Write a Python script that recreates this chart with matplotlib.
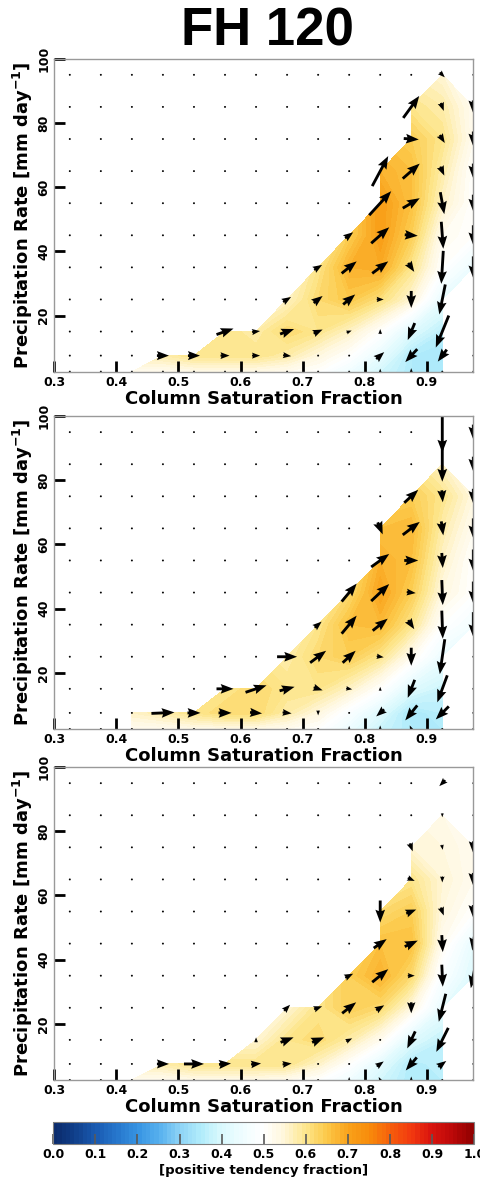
import numpy as np
import matplotlib
matplotlib.use('Agg')
import matplotlib.pyplot as plt
from matplotlib.colors import LinearSegmentedColormap

plt.rcParams['font.family'] = 'DejaVu Sans'
plt.rcParams['font.weight'] = 'bold'
plt.rcParams['axes.labelweight'] = 'bold'

nan = np.nan

# bin centres
csf = [0.325, 0.375, 0.425, 0.475, 0.525, 0.575, 0.625, 0.675,
       0.725, 0.775, 0.825, 0.875, 0.925, 0.975]
prc = [2.5, 7.5, 15, 25, 35, 45, 55, 65, 75, 85, 95]

# positive tendency fraction, rows = prc (bottom -> top), cols = csf
frac1 = [
    [nan, nan, .52, .52, .53, .53, .53, .52, .50, .45, .39, .35, .35, nan],
    [nan, nan, nan, .58, .60, .60, .60, .58, .54, .50, .43, .35, .34, nan],
    [nan, nan, nan, nan, nan, .60, .58, .62, .60, .56, .50, .41, .36, nan],
    [nan, nan, nan, nan, nan, nan, nan, .56, .62, .65, .61, .55, .43, nan],
    [nan, nan, nan, nan, nan, nan, nan, nan, .60, .68, .69, .60, .50, .44],
    [nan, nan, nan, nan, nan, nan, nan, nan, nan, .64, .71, .64, .52, .50],
    [nan, nan, nan, nan, nan, nan, nan, nan, nan, nan, .71, .66, .56, .50],
    [nan, nan, nan, nan, nan, nan, nan, nan, nan, nan, .68, .66, .58, .50],
    [nan, nan, nan, nan, nan, nan, nan, nan, nan, nan, nan, .64, .60, .52],
    [nan, nan, nan, nan, nan, nan, nan, nan, nan, nan, nan, .60, .58, .52],
    [nan, nan, nan, nan, nan, nan, nan, nan, nan, nan, nan, nan, .55, nan],
]
frac2 = [
    [nan, nan, .52, .52, .53, .53, .53, .52, .50, .44, .38, .35, .35, nan],
    [nan, nan, .56, .58, .60, .62, .62, .58, .54, .48, .41, .34, .36, nan],
    [nan, nan, nan, nan, nan, .60, .62, .60, .60, .56, .50, .41, .38, nan],
    [nan, nan, nan, nan, nan, nan, nan, .58, .62, .64, .60, .52, .44, nan],
    [nan, nan, nan, nan, nan, nan, nan, nan, .60, .66, .67, .60, .50, .46],
    [nan, nan, nan, nan, nan, nan, nan, nan, nan, .62, .70, .64, .54, .50],
    [nan, nan, nan, nan, nan, nan, nan, nan, nan, nan, .68, .66, .56, .50],
    [nan, nan, nan, nan, nan, nan, nan, nan, nan, nan, .66, .67, .58, .52],
    [nan, nan, nan, nan, nan, nan, nan, nan, nan, nan, nan, .64, .60, .54],
    [nan, nan, nan, nan, nan, nan, nan, nan, nan, nan, nan, nan, .56, nan],
    [nan, nan, nan, nan, nan, nan, nan, nan, nan, nan, nan, nan, nan, nan],
]
frac3 = [
    [nan, nan, .52, .52, .53, .53, .53, .52, .50, .45, .39, .35, .36, nan],
    [nan, nan, nan, .58, .60, .60, .60, .60, .56, .50, .42, .35, .37, nan],
    [nan, nan, nan, nan, nan, nan, .55, .60, .62, .58, .52, .41, .37, nan],
    [nan, nan, nan, nan, nan, nan, nan, .55, .60, .64, .62, .54, .43, nan],
    [nan, nan, nan, nan, nan, nan, nan, nan, nan, .64, .68, .62, .48, .41],
    [nan, nan, nan, nan, nan, nan, nan, nan, nan, nan, .66, .66, .52, .43],
    [nan, nan, nan, nan, nan, nan, nan, nan, nan, nan, .62, .64, .54, .50],
    [nan, nan, nan, nan, nan, nan, nan, nan, nan, nan, nan, .60, .55, .52],
    [nan, nan, nan, nan, nan, nan, nan, nan, nan, nan, nan, .55, .54, .52],
    [nan, nan, nan, nan, nan, nan, nan, nan, nan, nan, nan, nan, .53, nan],
    [nan, nan, nan, nan, nan, nan, nan, nan, nan, nan, nan, nan, nan, nan],
]

# mean tendencies (csf, precip), same layout
u1 = [
    [0, 0, 0, 0, 0, 0, 0, 0, 0, 0, 0, 0, 0, 0],
    [0, 0, 0, 12, 12, 9, 8, 8, 0, 0, 8, -12, -9, 0],
    [0, 0, 0, 0, 0, 17, 8, 14, 9, 5, 0, -7, -13, 0],
    [0, 0, 0, 0, 0, 0, 0, 8, 9, 12, 7, 0, -6, 0],
    [0, 0, 0, 0, 0, 0, 0, 0, 8, 15, 16, 6, -2, 0],
    [0, 0, 0, 0, 0, 0, 0, 0, 0, 8, 18, 13, 2, 0],
    [0, 0, 0, 0, 0, 0, 0, 0, 0, 0, 22, 17, 4, 0],
    [0, 0, 0, 0, 0, 0, 0, 0, 0, 0, 16, 17, 4, 0],
    [0, 0, 0, 0, 0, 0, 0, 0, 0, 0, 0, 15, 5, 0],
    [0, 0, 0, 0, 0, 0, 0, 0, 0, 0, 0, 16, 3, 0],
    [0, 0, 0, 0, 0, 0, 0, 0, 0, 0, 0, 0, 5, 0],
]
v1 = [
    [0, 0, 0, 0, 0, 0, 0, 0, 0, 0, 6, 7, 0, 0],
    [0, 0, 0, 0, 0, 0, 0, -1, 0, 0, 7, -13, -12, 0],
    [0, 0, 0, 0, 0, 6, 1, 5, 4, 2, 5, -17, -32, 0],
    [0, 0, 0, 0, 0, 0, 0, 5, 7, 10, 0, -17, -30, 0],
    [0, 0, 0, 0, 0, 0, 0, 0, 5, 12, 12, -9, -33, -22],
    [0, 0, 0, 0, 0, 0, 0, 0, 0, 6, 16, -1, -27, -20],
    [0, 0, 0, 0, 0, 0, 0, 0, 0, 0, 24, 10, -22, -17],
    [0, 0, 0, 0, 0, 0, 0, 0, 0, 0, 30, 15, -9, -15],
    [0, 0, 0, 0, 0, 0, 0, 0, 0, 0, 0, -1, -8, -15],
    [0, 0, 0, 0, 0, 0, 0, 0, 0, 0, 0, 22, -8, -13],
    [0, 0, 0, 0, 0, 0, 0, 0, 0, 0, 0, 0, -5, 0],
]
u2 = [
    [0, 0, 0, 0, 0, 0, 0, 0, 0, 0, 0, -3, 0, 0],
    [0, 0, 0, 23, 13, 13, 12, 9, 0, 0, -8, -12, -13, 0],
    [0, 0, 0, 0, 0, 17, 21, 15, 9, 6, 0, -7, -10, 0],
    [0, 0, 0, 0, 0, 0, 0, 20, 16, 13, 7, 0, -5, 0],
    [0, 0, 0, 0, 0, 0, 0, 0, 7, 15, 15, 6, 1, 0],
    [0, 0, 0, 0, 0, 0, 0, 0, 0, 15, 18, 9, 1, 0],
    [0, 0, 0, 0, 0, 0, 0, 0, 0, 0, 18, 14, 1, 0],
    [0, 0, 0, 0, 0, 0, 0, 0, 0, 0, 5, 17, 2, 0],
    [0, 0, 0, 0, 0, 0, 0, 0, 0, 0, 0, 14, 1, 0],
    [0, 0, 0, 0, 0, 0, 0, 0, 0, 0, 0, 0, 0, 0],
    [0, 0, 0, 0, 0, 0, 0, 0, 0, 0, 0, 0, 0, 0],
]
v2 = [
    [0, 0, 0, 0, 0, 0, 0, 0, 0, 6, 7, 7, 0, 0],
    [0, 0, 0, 1, 0, 0, -1, -1, -5, 0, -7, -15, -13, 0],
    [0, 0, 0, 0, 0, 0, 7, 4, -3, -1, 4, -18, -27, 0],
    [0, 0, 0, 0, 0, 0, 0, 0, 12, 12, -1, -18, -35, 0],
    [0, 0, 0, 0, 0, 0, 0, 0, 6, 18, 12, -9, -28, -25],
    [0, 0, 0, 0, 0, 0, 0, 0, 0, 18, 17, -1, -25, -22],
    [0, 0, 0, 0, 0, 0, 0, 0, 0, 0, 13, 0, -15, -22],
    [0, 0, 0, 0, 0, 0, 0, 0, 0, 0, -12, 13, -14, -20],
    [0, 0, 0, 0, 0, 0, 0, 0, 0, 0, 0, 13, -12, -15],
    [0, 0, 0, 0, 0, 0, 0, 0, 0, 0, 0, 0, -35, -15],
    [0, 0, 0, 0, 0, 0, 0, 0, 0, 0, 0, 0, -41, -15],
]
u3 = [
    [0, 0, 0, 0, 0, 0, 0, 0, 0, 0, -3, 0, 0, 0],
    [0, 0, 0, 12, 20, 12, 10, 9, 0, 0, 7, -11, 8, 0],
    [0, 0, 0, 0, 0, 0, 0, 13, 12, 6, 0, -8, -12, 0],
    [0, 0, 0, 0, 0, 0, 0, 6, 8, 14, 8, 0, -7, 0],
    [0, 0, 0, 0, 0, 0, 0, 0, 0, 8, 16, 7, 1, -5],
    [0, 0, 0, 0, 0, 0, 0, 0, 0, 0, 13, 13, 1, -2],
    [0, 0, 0, 0, 0, 0, 0, 0, 0, 0, 0, 10, 3, 0],
    [0, 0, 0, 0, 0, 0, 0, 0, 0, 0, 0, 7, 0, 0],
    [0, 0, 0, 0, 0, 0, 0, 0, 0, 0, 0, 3, 1, 0],
    [0, 0, 0, 0, 0, 0, 0, 0, 0, 0, 0, 0, 0, 0],
    [0, 0, 0, 0, 0, 0, 0, 0, 0, 0, 0, 0, -6, 0],
]
v3 = [
    [0, 0, 0, 0, 0, 0, 0, 0, 0, 6, 6, 7, 0, 0],
    [0, 0, 0, 0, 0, 1, 1, 1, 0, 0, 5, -13, 6, 0],
    [0, 0, 0, 0, 0, 0, 5, 5, 5, 3, 0, -17, -24, 0],
    [0, 0, 0, 0, 0, 0, 0, 6, 3, 11, 5, -11, -28, 0],
    [0, 0, 0, 0, 0, 0, 0, 0, 0, 4, 13, 0, -22, -25],
    [0, 0, 0, 0, 0, 0, 0, 0, 0, 0, 9, 6, -17, -14],
    [0, 0, 0, 0, 0, 0, 0, 0, 0, 0, -22, 4, -8, -13],
    [0, 0, 0, 0, 0, 0, 0, 0, 0, 0, 0, -3, -6, -13],
    [0, 0, 0, 0, 0, 0, 0, 0, 0, 0, 0, -8, -5, -12],
    [0, 0, 0, 0, 0, 0, 0, 0, 0, 0, 0, 0, -4, 0],
    [0, 0, 0, 0, 0, 0, 0, 0, 0, 0, 0, 0, -6, 0],
]

cmap_pts = [
    (0.00, '#0b2a6a'), (0.05, '#103f8a'), (0.10, '#1a5bb2'), (0.15, '#2676cc'),
    (0.20, '#3794e3'), (0.25, '#56b0ee'), (0.30, '#8dd3f6'), (0.35, '#b2ecfb'),
    (0.40, '#daf9fd'), (0.45, '#f0fdff'), (0.50, '#ffffff'), (0.55, '#fff6d8'),
    (0.60, '#fde68c'), (0.65, '#fcc94a'), (0.70, '#f9a21b'), (0.75, '#f88d0b'),
    (0.80, '#f6600c'), (0.85, '#f23a0f'), (0.90, '#d9140e'), (0.95, '#bb0808'),
    (1.00, '#8f0000'),
]
cmap = LinearSegmentedColormap.from_list('bwor', cmap_pts)

fig = plt.figure(figsize=(4.8, 11.78), dpi=100)
fig.text(267.5 / 480, 1 - 45 / 1178, 'FH 120', fontsize=38, weight='bold',
         family='Liberation Sans', ha='center', va='baseline')

X, Y = np.meshgrid(csf, prc)
levels = np.linspace(0, 1, 101)
panels = [(frac1, u1, v1), (frac2, u2, v2), (frac3, u3, v3)]
bottoms = [0.6845, 0.3812, 0.0832]

for (frac, u, v), b in zip(panels, bottoms):
    ax = fig.add_axes([0.1131, b, 0.873, 0.2656])
    cf = ax.contourf(X, Y, np.array(frac), levels=levels, cmap=cmap)
    ax.quiver(X, Y, np.array(u, float), np.array(v, float), angles='uv',
              scale_units='dots', scale=1, pivot='middle', color='k',
              width=0.0068, headwidth=3.4, headlength=4.5, headaxislength=4,
              minlength=0.75)
    ax.set_xlim(0.3, 0.975)
    ax.set_ylim(2.5, 100)
    ax.set_xticks([0.3, 0.4, 0.5, 0.6, 0.7, 0.8, 0.9])
    ax.set_yticks([20, 40, 60, 80, 100])
    ax.tick_params(direction='in', length=8, width=2, labelsize=9, pad=3)
    plt.setp(ax.get_yticklabels(), rotation=90, va='center')
    for sp in ax.spines.values():
        sp.set_color('0.6')
        sp.set_linewidth(1)
    ax.set_xlabel('Column Saturation Fraction', fontsize=13)
    ax.set_ylabel('Precipitation Rate [mm day$^{-1}$]', fontsize=13)
    ax.xaxis.set_label_coords(0.5, -0.058)
    ax.yaxis.set_label_coords(-0.045, 0.5)

cax = fig.add_axes([0.111, 0.0291, 0.877, 0.0182])
cb = fig.colorbar(cf, cax=cax, orientation='horizontal',
                  ticks=[0.0, 0.1, 0.2, 0.3, 0.4, 0.5, 0.6, 0.7, 0.8, 0.9, 1.0])
cb.outline.set_edgecolor('0.5')
cax.tick_params(direction='in', length=7, width=1.2, color='0.35', labelsize=9, pad=3)
cb.set_label('[positive tendency fraction]', fontsize=9.5, weight='bold', labelpad=2)

fig.savefig('out.png', dpi=100)
